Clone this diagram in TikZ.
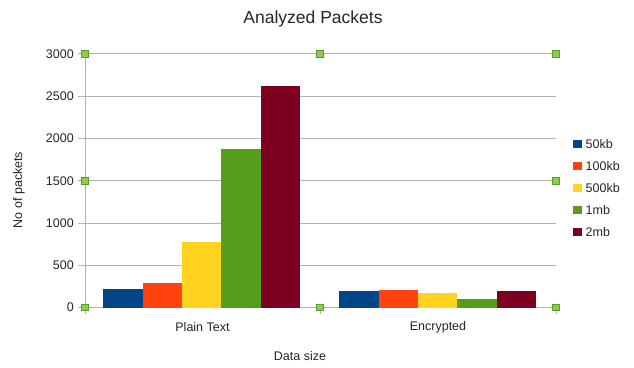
\documentclass[tikz,border=0pt]{standalone}
\usepackage{fontspec}
\setmainfont{Liberation Sans}
\definecolor{cBlue}{HTML}{004586}
\definecolor{cRed}{HTML}{FF420E}
\definecolor{cYellow}{HTML}{FFD320}
\definecolor{cGreen}{HTML}{579D1C}
\definecolor{cMaroon}{HTML}{7E0021}
\definecolor{gridgray}{HTML}{B3B3B3}
\definecolor{hfill}{HTML}{8DCC4E}
\definecolor{hdraw}{HTML}{5A9E2A}
\tikzset{
  gridline/.style={draw=gridgray, line width=1pt},
  ticklbl/.style={anchor=east, inner sep=0pt, font=\fontsize{12.5}{15}\selectfont, text=black!85},
  catlbl/.style={inner sep=0pt, font=\fontsize{12.5}{15}\selectfont, text=black!85},
  handle/.style={draw=hdraw, fill=hfill, line width=0.6pt, minimum size=6.5pt, inner sep=0pt, rectangle},
  legbox/.style={rectangle, minimum size=8.5pt, inner sep=0pt},
  leglbl/.style={anchor=west, inner sep=0pt, font=\fontsize{12.5}{15}\selectfont, text=black!85},
}
\begin{document}
\begin{tikzpicture}[x=1pt,y=-1pt]
\useasboundingbox (0,0) rectangle (634,367);
\fill[white] (0,0) rectangle (634,367);
% title
\node[inner sep=0pt, font=\fontsize{17.5}{20}\selectfont, text=black!85] (title) at (313,19) {Analyzed Packets};
% grid and y ticks
\foreach \v [count=\i] in {0,500,1000,1500,2000,2500,3000} {
  \pgfmathsetmacro{\yy}{307.5-\v*0.08450}
  \draw[gridline] (78,\yy) -- (556,\yy);
  \node[ticklbl] (yl\i) at (74,\yy) {\v};
}
% axes
\draw[gridline] (85,54) -- (85,314);
\draw[gridline] (320,307.5) -- (320,314);
\draw[gridline] (556,307.5) -- (556,314);
% bars
\foreach \v/\cc [count=\i] in {220/cBlue,292/cRed,775/cYellow,1872/cGreen,2620/cMaroon} {
  \pgfmathsetmacro{\xa}{103.3+(\i-1)*39.35}
  \pgfmathsetmacro{\yt}{307.5-\v*0.08450}
  \fill[\cc] (\xa,307.5) rectangle (\xa+39.35,\yt);
}
\foreach \v/\cc [count=\i] in {192/cBlue,204/cRed,176/cYellow,97/cGreen,195/cMaroon} {
  \pgfmathsetmacro{\xa}{339.3+(\i-1)*39.35}
  \pgfmathsetmacro{\yt}{307.5-\v*0.08450}
  \fill[\cc] (\xa,307.5) rectangle (\xa+39.35,\yt);
}
% category labels
\node[catlbl] (c1) at (202.5,327) {Plain Text};
\node[catlbl] (c2) at (438,327) {Encrypted};
% axis titles
\node[catlbl] (xt) at (300,356) {Data size};
\node[catlbl, rotate=90] (yt) at (19,190) {No of packets};
% legend
\foreach \lbl/\cc [count=\i] in {50kb/cBlue,100kb/cRed,500kb/cYellow,1mb/cGreen,2mb/cMaroon} {
  \pgfmathsetmacro{\ly}{144+(\i-1)*22}
  \node[legbox, fill=\cc] (lb\i) at (577.5,\ly) {};
  \node[leglbl] (ll\i) at (585.5,\ly) {\lbl};
}
% selection handles
\foreach \hx/\hy [count=\i] in {85/54,320/54,556/54,85/181,556/181,85/307.5,320/307.5,556/307.5} {
  \node[handle] (h\i) at (\hx,\hy) {};
}
\end{tikzpicture}
\end{document}
